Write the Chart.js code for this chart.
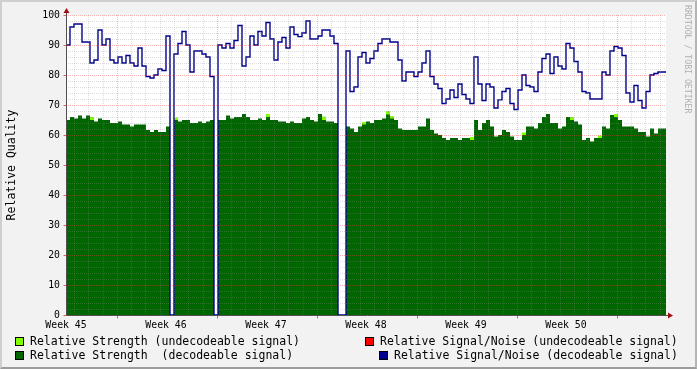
<!DOCTYPE html>
<html>
<head>
<meta charset="utf-8">
<script src="https://cdn.jsdelivr.net/npm/chart.js@4.4.1/dist/chart.umd.min.js"></script>
<style>
  body { margin: 0; background: #f2f2f2; }
  #wrap { position: relative; width: 697px; height: 369px; overflow: hidden; }
  #frame { position: absolute; left: 0; top: 0; width: 697px; height: 369px; box-sizing: border-box;
           border-top: 2px solid #cfcfcf; border-left: 2px solid #cfcfcf;
           border-right: 2px solid #b4b4b4; border-bottom: 2px solid #9c9c9c; pointer-events: none; }
  .lg { position: absolute; font: 11.5px "DejaVu Sans Mono", monospace; color: #000; white-space: pre; line-height: 14px; }
  .box { position: absolute; width: 9px; height: 9px; box-sizing: border-box; border: 1px solid #000; }
  #mark { position: absolute; left: 682px; top: 5px; font: 8.2px "DejaVu Sans Mono", monospace; color: #b0b0b0;
          writing-mode: vertical-rl; white-space: pre; line-height: 11px; }
</style>
</head>
<body>
<div id="wrap">
  <canvas id="chartQuality" width="697" height="369"></canvas>
  <div class="box" style="left:15px;top:337px;background:#80ff00"></div>
  <div class="lg" style="left:30px;top:334px">Relative Strength (undecodeable signal)</div>
  <div class="box" style="left:15px;top:351px;background:#006600"></div>
  <div class="lg" style="left:30px;top:348px">Relative Strength  (decodeable signal)</div>
  <div class="box" style="left:365px;top:337px;background:#ff0000"></div>
  <div class="lg" style="left:380px;top:334px">Relative Signal/Noise (undecodeable signal)</div>
  <div class="box" style="left:379px;top:351px;background:#000090"></div>
  <div class="lg" style="left:394px;top:348px">Relative Signal/Noise (decodeable signal)</div>
  <div id="mark">RRDTOOL / TOBI OETIKER</div>
  <div id="frame"></div>
</div>
<script>
// week labels, 25 samples per week
var weeks = ['Week 45', 'Week 46', 'Week 47', 'Week 48', 'Week 49', 'Week 50'];
var perWeek = 25;

// relative signal/noise (decodeable signal)
var snDecode = [
  89, 90, 96, 97, 97, 91, 91, 84, 85, 95, 90, 92, 85, 84, 86, 84, 86.5, 84, 83, 89, 83, 79.5, 79, 80, 82,
  81.5, 93, 0, 87, 90.5, 94.5, 90, 81, 88, 88, 87, 86, 79.5, 0, 90, 89, 90.5, 89, 91.5, 96.5, 83, 86, 93, 90, 94.5,
  93, 97.5, 92, 85, 91, 92.5, 89, 96, 93.5, 92.8, 94, 98, 92, 92, 93, 95, 95, 93, 90.5, 0, 0, 88, 74.5, 76, 86,
  87.5, 84, 85.5, 88, 90.5, 92, 92, 91, 91, 85, 78, 81, 81, 79.5, 81, 84, 88, 79.5, 77, 75.5, 70.5, 72, 75, 72.5, 77,
  73.5, 72, 70.5, 86, 77, 71.5, 77, 76, 69, 71.7, 74.5, 75.5, 70.5, 68.5, 75, 80, 76.5, 76, 74.5, 81, 85.5, 87, 80.5, 86, 83,
  82, 90.5, 89, 84.5, 81, 74.5, 74, 72, 72, 72, 81, 80, 88, 89.5, 89, 86.5, 74, 71, 76.5, 71.5, 69, 74.5, 80, 80.5, 81
];

// relative strength (decodeable signal)
var strengthDecode = [
  66, 65, 66, 65.5, 66.5, 65.5, 66.5, 65, 64.5, 65.5, 65, 65, 64, 64, 64.5, 63.5, 63.5, 62.8, 63.5, 63.5, 63.5, 61.7, 61, 61.7, 61,
  61, 62.8, 0, 65, 64.5, 65, 65, 64, 64, 64.5, 64, 64.5, 65, 0, 65, 65, 66.5, 65.5, 66, 66, 67, 66, 65, 65, 65.5,
  65, 66, 65, 65, 64.5, 64.5, 64, 64.5, 64, 64, 65.5, 66, 65, 64.5, 67, 65, 64.5, 64.5, 64, 0, 0, 62.8, 62.2, 61, 62.8,
  63.5, 64.5, 64, 65, 65, 65.5, 66.8, 65.5, 65, 62.2, 61.7, 61.7, 61.7, 61.7, 62.8, 62.8, 65.5, 61.7, 60.5, 60, 59, 58.3, 59, 59, 58.3,
  59, 59, 58.3, 65, 61.7, 64, 65, 62.8, 59.5, 60, 61.7, 61, 59.5, 58.3, 58.3, 60, 62.8, 62.8, 62.2, 64, 66, 67, 64, 64, 62.2,
  62.8, 66, 65, 64.5, 63.5, 58.3, 59, 57.8, 59, 59, 62.8, 62.2, 66.7, 66, 65, 62.8, 62.8, 62.8, 62.2, 61, 61, 59.5, 62.2, 60.5, 62.2
];

// undecodeable strength peeking above the decodeable one (sample index, extra)
var undecodeIdx = [7, 28, 51, 65, 75, 81, 82, 102, 115, 127, 134, 138];
var undecodeExtra = [1, 0.8, 1, 1.2, 0.8, 1.2, 0.8, 1, 0.8, 1, 0.8, 1];

// relative signal/noise (undecodeable signal) - nothing visible in this period
var snUndecode = [];

function toPoints(arr) {
  var pts = arr.map(function (v, i) { return { x: i, y: v }; });
  if (arr.length) pts.push({ x: arr.length, y: arr[arr.length - 1] });
  return pts;
}

var strengthUndecode = strengthDecode.map(function (v, i) {
  var k = undecodeIdx.indexOf(i);
  return k >= 0 ? v + undecodeExtra[k] : 0;
});

var monoFont = 'DejaVu Sans Mono';
var perDay = perWeek / 7;
var gridStart = 2; // first day line (offset from week start)
var minorColor = 'rgba(140,140,140,0.3)';
var majorColor = 'rgba(240,60,60,0.4)';

var rrdGrid = {
  id: 'rrdGrid',
  beforeDatasetsDraw: function (chart) {
    var a = chart.chartArea, ctx = chart.ctx;
    ctx.save();
    ctx.fillStyle = '#ffffff';
    ctx.fillRect(a.left, a.top, a.right - a.left, a.bottom - a.top);
    ctx.restore();
  },
  afterDatasetsDraw: function (chart) {
    var a = chart.chartArea, ctx = chart.ctx;
    var x = chart.scales.x, y = chart.scales.y;
    ctx.save();
    ctx.lineWidth = 1;
    ctx.setLineDash([1, 1]);
    // horizontal lines
    for (var v = 2; v <= 100; v += 2) {
      var py = Math.round(y.getPixelForValue(v)) + 0.5;
      ctx.strokeStyle = v % 10 === 0 ? majorColor : minorColor;
      ctx.beginPath(); ctx.moveTo(a.left, py); ctx.lineTo(a.right, py); ctx.stroke();
    }
    // vertical lines, one per day, red once a week
    for (var k = 0; gridStart + k * perDay < 150; k++) {
      var px = Math.round(x.getPixelForValue(gridStart + k * perDay)) + 0.5;
      ctx.strokeStyle = k % 7 === 3 ? majorColor : minorColor;
      ctx.beginPath(); ctx.moveTo(px, a.top); ctx.lineTo(px, a.bottom); ctx.stroke();
    }
    ctx.setLineDash([]);
    // axes
    var ax = Math.round(a.left) + 0.5, ay = Math.round(a.bottom) + 0.5;
    ctx.strokeStyle = '#505050';
    ctx.beginPath(); ctx.moveTo(ax, ay); ctx.lineTo(ax, a.top - 3); ctx.stroke();
    ctx.beginPath(); ctx.moveTo(ax, ay); ctx.lineTo(a.right + 2, ay); ctx.stroke();
    // tick marks
    ctx.strokeStyle = 'rgba(200,40,40,0.7)';
    for (var t = 0; t <= 100; t += 10) {
      var ty = Math.round(y.getPixelForValue(t)) + 0.5;
      ctx.beginPath(); ctx.moveTo(ax - 3, ty); ctx.lineTo(ax, ty); ctx.stroke();
    }
    for (var m = 3; gridStart + m * perDay < 150; m += 7) {
      var tx = Math.round(x.getPixelForValue(gridStart + m * perDay)) + 0.5;
      ctx.beginPath(); ctx.moveTo(tx, ay); ctx.lineTo(tx, ay + 3); ctx.stroke();
    }
    // arrows
    ctx.fillStyle = '#a01010';
    ctx.beginPath(); ctx.moveTo(ax - 3, a.top - 2); ctx.lineTo(ax + 3, a.top - 2); ctx.lineTo(ax, a.top - 7); ctx.closePath(); ctx.fill();
    ctx.beginPath(); ctx.moveTo(a.right + 2, ay - 3); ctx.lineTo(a.right + 2, ay + 3); ctx.lineTo(a.right + 7, ay); ctx.closePath(); ctx.fill();
    ctx.restore();
  }
};

var ctxQuality = document.getElementById('chartQuality').getContext('2d');
var chartQuality = new Chart(ctxQuality, {
  type: 'line',
  data: {
    datasets: [{
      label: 'Relative Signal/Noise (decodeable signal)',
      data: toPoints(snDecode),
      borderColor: '#000090',
      borderWidth: 1.4,
      stepped: 'after',
      fill: false,
      order: 0
    }, {
      label: 'Relative Strength  (decodeable signal)',
      data: toPoints(strengthDecode),
      borderWidth: 0,
      borderColor: 'rgba(0,0,0,0)',
      backgroundColor: '#006600',
      stepped: 'after',
      fill: 'origin',
      order: 1
    }, {
      label: 'Relative Strength (undecodeable signal)',
      data: toPoints(strengthUndecode),
      borderWidth: 0,
      borderColor: 'rgba(0,0,0,0)',
      backgroundColor: '#80ff00',
      stepped: 'after',
      fill: 'origin',
      order: 2
    }, {
      label: 'Relative Signal/Noise (undecodeable signal)',
      data: toPoints(snUndecode),
      borderColor: '#ff0000',
      borderWidth: 1,
      stepped: 'after',
      fill: false,
      order: 3
    }]
  },
  options: {
    responsive: false,
    animation: false,
    layout: { padding: { top: 15, right: 31, bottom: 0, left: 0 } },
    elements: { point: { radius: 0 }, line: { tension: 0 } },
    plugins: { legend: { display: false }, tooltip: { enabled: false } },
    scales: {
      x: {
        type: 'linear', min: 0, max: 150,
        grid: { display: false, drawTicks: false, tickLength: 0 }, border: { display: false },
        afterBuildTicks: function (s) { s.ticks = weeks.map(function (w, i) { return { value: i * perWeek }; }); },
        afterFit: function (s) { s.height = 54; },
        ticks: {
          autoSkip: false, maxRotation: 0, padding: 5, color: '#000',
          font: { family: monoFont, size: 9.8 },
          callback: function (v) { return weeks[Math.round(v / perWeek)]; }
        }
      },
      y: {
        min: 0, max: 100,
        grid: { display: false, drawTicks: false, tickLength: 0 }, border: { display: false },
        afterFit: function (s) { s.width = 66; },
        ticks: { stepSize: 10, padding: 6, color: '#000', font: { family: monoFont, size: 9.8 } },
        title: { display: true, text: 'Relative Quality', color: '#000', padding: { top: 5, bottom: 0 },
                 font: { family: monoFont, size: 11.5 } }
      }
    }
  },
  plugins: [rrdGrid]
});
</script>
</body>
</html>
